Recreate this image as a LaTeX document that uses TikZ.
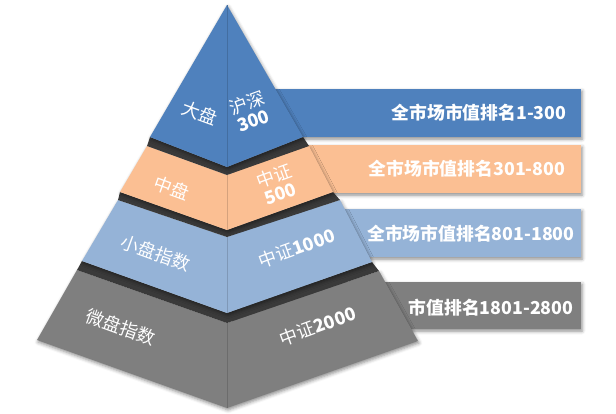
\documentclass[tikz,border=0pt]{standalone}
\usepackage{fontspec}
\newfontfamily\cjk{Noto Sans CJK SC}
\usetikzlibrary{shadows.blur}
\definecolor{cblue}{HTML}{4F81BD}
\definecolor{corange}{HTML}{FBBF93}
\definecolor{clblue}{HTML}{95B3D7}
\definecolor{cgrey}{HTML}{7F7F7F}
\definecolor{cdark}{HTML}{3A3A3A}
\begin{document}
\begin{tikzpicture}[x=1pt,y=-1pt,
  shd/.style={blur shadow={shadow xshift=1pt,shadow yshift=-2pt,shadow blur radius=3.5pt,shadow opacity=45}},
  ridge/.style={line width=0.5pt},
  lbl/.style={text=white,font=\cjk\fontsize{18}{19}\selectfont,inner sep=0pt,align=center},
  bartxt/.style={text=white,font=\cjk\bfseries\fontsize{17.8}{20}\selectfont,inner sep=0pt}
]
\useasboundingbox (0,0) rectangle (616,413);

% tier coordinates
\coordinate (a-top) at (227,5);
\coordinate (a-bl) at (150,137);
\coordinate (a-bc) at (227,167);
\coordinate (a-br) at (303,137);

\coordinate (b-tl) at (147,146);
\coordinate (b-tc) at (227,175);
\coordinate (b-tr) at (309,146);
\coordinate (b-bl) at (120,192);
\coordinate (b-bc) at (227,230);
\coordinate (b-br) at (333,192);

\coordinate (c-tl) at (118,200);
\coordinate (c-tc) at (227,237);
\coordinate (c-tr) at (340,200);
\coordinate (c-bl) at (82,261);
\coordinate (c-bc) at (227,313);
\coordinate (c-br) at (372,262);

\coordinate (d-tl) at (77,270);
\coordinate (d-tc) at (227,323);
\coordinate (d-tr) at (379,271);
\coordinate (d-bl) at (37,340);
\coordinate (d-bc) at (227,408);
\coordinate (d-br) at (418,341);

% bars behind the pyramid
\fill[cblue,shd] (232,89) rectangle (581,137);
\fill[corange,shd] (232,145) rectangle (581,193);
\fill[clblue,shd] (232,209) rectangle (581,257);
\fill[cgrey,shd] (232,282) rectangle (581,329);

\node[bartxt] (t1) at (479,113) {全市场市值排名1-300};
\node[bartxt] (t2) at (467,169) {全市场市值排名301-800};
\node[bartxt] (t3) at (471,234) {全市场市值排名801-1800};
\node[bartxt] (t4) at (491,308) {市值排名1801-2800};

% tier 4 (grey)
\fill[cgrey,shd] (d-tl) -- (d-tc) -- (d-tr) -- (d-br) -- (d-bc) -- (d-bl) -- cycle;
\draw[cgrey!85!black,ridge] (d-tc) -- (d-bc);
\fill[cdark] (c-bl) -- (c-bc) -- (c-br) -- (d-tr) -- (d-tc) -- (d-tl) -- cycle;

% tier 3 (light blue)
\fill[clblue,shd] (c-tl) -- (c-tc) -- (c-tr) -- (c-br) -- (c-bc) -- (c-bl) -- cycle;
\draw[clblue!85!black,ridge] (c-tc) -- (c-bc);
\fill[cdark] (b-bl) -- (b-bc) -- (b-br) -- (c-tr) -- (c-tc) -- (c-tl) -- cycle;

% tier 2 (orange)
\fill[corange,shd] (b-tl) -- (b-tc) -- (b-tr) -- (b-br) -- (b-bc) -- (b-bl) -- cycle;
\draw[corange!85!black,ridge] (b-tc) -- (b-bc);
\fill[cdark] (a-bl) -- (a-bc) -- (a-br) -- (b-tr) -- (b-tc) -- (b-tl) -- cycle;

% tier 1 (blue)
\fill[cblue,shd] (a-top) -- (a-br) -- (a-bc) -- (a-bl) -- cycle;
\draw[cblue!85!black,ridge] (a-top) -- (a-bc);

% labels
\node[lbl,rotate=-20] (l1) at (200,113) {大盘};
\node[lbl,rotate=20] (r1) at (250,111) {沪深\\\textbf{300}};
\node[lbl,rotate=-20] (l2) at (172,188) {中盘};
\node[lbl,rotate=20] (r2) at (277,184) {中证\\\textbf{500}};
\node[lbl,rotate=-20] (l3) at (156,253) {小盘指数};
\node[lbl,rotate=20] (r3) at (297,248) {中证\textbf{1000}};
\node[lbl,rotate=-20] (l4) at (121,327) {微盘指数};
\node[lbl,rotate=20] (r4) at (318,326) {中证\textbf{2000}};
\end{tikzpicture}
\end{document}
